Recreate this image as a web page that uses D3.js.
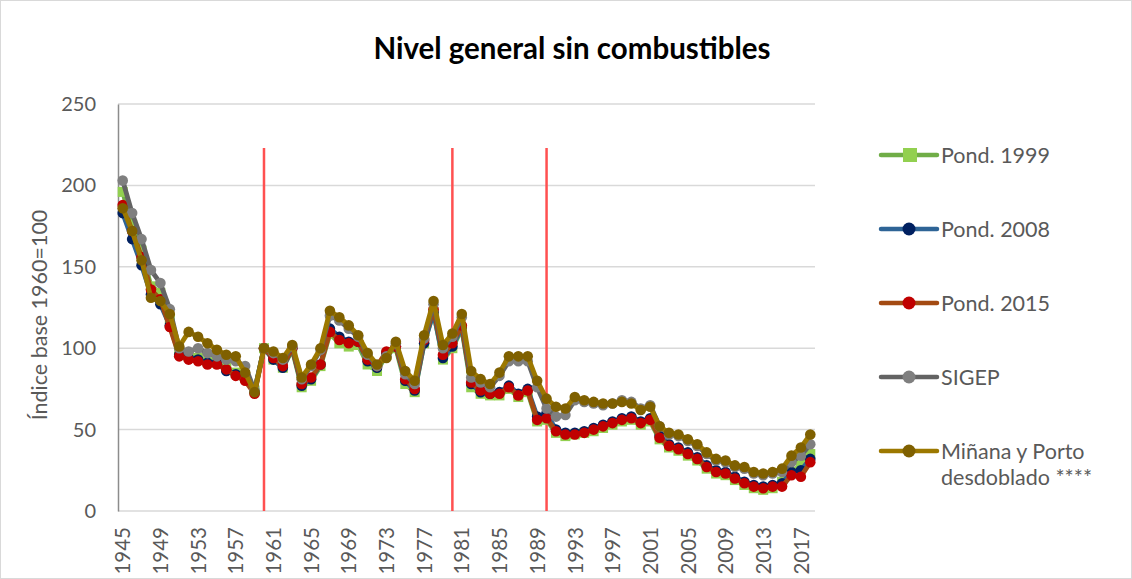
<!DOCTYPE html>
<html>
<head>
<meta charset="utf-8">
<script src="https://cdn.jsdelivr.net/npm/d3@7"></script>
<style>
  body { margin: 0; background: #fff; }
  svg { display: block; font-family: Lato, 'Open Sans', sans-serif; }
</style>
</head>
<body>
<div class="chart"></div>
<script>
const years = d3.range(1945, 2019);
const xTickYears = d3.range(1945, 2019, 4);
const yTicks = [0, 50, 100, 150, 200, 250];
const breakYears = [1960, 1980, 1990];

const pond1999 = [196, 176, 160, 138, 134, 118, 97, 95, 94, 92, 91, 88, 85, 82, 74,
  100, 93, 88, 99, 76, 80, 89, 109, 103, 101, 102, 90, 86, 96, 100, 78, 73, 103, 122, 93,
  100, 112, 76, 72, 71, 71, 75, 70, 73, 55,
  56, 48, 46, 47, 48, 49, 51, 53, 55, 56, 53, 55, 44, 39, 37, 34, 31, 26, 23, 22, 19, 16, 14, 13, 14, 18, 24, 28, 35];
const pond2008 = [183, 167, 151, 133, 127, 114, 96, 94, 93, 91, 91, 86, 84, 81, 73,
  100, 93, 88, 100, 77, 81, 90, 112, 107, 104, 104, 92, 88, 97, 101, 80, 74, 103, 122, 94,
  101, 113, 78, 73, 72, 73, 77, 72, 75, 58,
  60, 50, 48, 48, 49, 51, 53, 55, 57, 58, 55, 57, 46, 41, 39, 36, 33, 28, 25, 24, 21, 18, 16, 15, 16, 17, 24, 25, 32];
const pond2015 = [188, 172, 156, 136, 130, 113, 95, 93, 92, 90, 90, 87, 83, 80, 72,
  100, 94, 89, 100, 78, 82, 90, 110, 105, 103, 104, 93, 89, 98, 101, 81, 75, 105, 124, 96,
  103, 114, 79, 74, 72, 72, 76, 71, 74, 56,
  57, 49, 47, 47, 48, 50, 52, 54, 56, 57, 54, 56, 45, 40, 38, 35, 32, 27, 24, 23, 20, 17, 15, 14, 15, 15, 22, 21, 30];
const sigep = [203, 183, 167, 148, 140, 124, 100, 98, 100, 97, 95, 93, 92, 89, 74,
  100, 97, 93, 101, 81, 89, 99, 120, 117, 112, 107, 96, 89, 95, 103, 84, 78, 106, 127, 100,
  107, 119, 82, 79, 76, 83, 92, 92, 92, 76,
  63, 58, 59, 68, 67, 66, 65, 66, 68, 67, 63, 65, 52, 47, 46, 43, 40, 35, 31, 30, 27, 26, 23, 22, 23, 24, 30, 34, 41];
const minana = [186, 172, 154, 131, 129, 121, 101, 110, 107, 103, 99, 96, 95, 85, 73,
  100, 98, 94, 102, 82, 90, 100, 123, 119, 114, 108, 97, 90, 94, 104, 86, 80, 108, 129, 102,
  109, 121, 86, 81, 78, 85, 95, 95, 95, 80,
  69, 64, 63, 70, 68, 67, 66, 66, 67, 66, 62, 64, 52, 48, 47, 44, 41, 36, 32, 31, 28, 27, 24, 23, 24, 26, 34, 39, 47];

const seriesNames = ['Pond. 1999', 'Pond. 2008', 'Pond. 2015', 'SIGEP', 'Miñana y Porto desdoblado ****'];

const series = [
  { name: seriesNames[0], values: pond1999, line: '#70AD47', marker: '#92D050', shape: 'square' },
  { name: seriesNames[1], values: pond2008, line: '#2E6496', marker: '#002060', shape: 'circle' },
  { name: seriesNames[2], values: pond2015, line: '#A34A12', marker: '#C00000', shape: 'circle' },
  { name: seriesNames[3], values: sigep, line: '#636363', marker: '#7F7F7F', shape: 'circle' },
  { name: seriesNames[4], values: minana, line: '#9C7800', marker: '#7F6000', shape: 'circle' }
];

const width = 1132, height = 579;
const plot = { left: 118, right: 815, top: 104, bottom: 511 };

const svg = d3.select('.chart').append('svg')
  .attr('width', width)
  .attr('height', height);

svg.append('rect')
  .attr('x', 0.5).attr('y', 0.5)
  .attr('width', width - 1).attr('height', height - 1)
  .attr('fill', '#fff')
  .attr('stroke', '#d9d9d9');

const x = d3.scalePoint()
  .domain(years)
  .range([plot.left, plot.right])
  .padding(0.5);

const y = d3.scaleLinear()
  .domain([0, 250])
  .range([plot.bottom, plot.top]);

// gridlines
svg.append('g')
  .selectAll('line')
  .data(yTicks)
  .enter()
  .append('line')
  .attr('x1', plot.left)
  .attr('x2', plot.right)
  .attr('y1', d => y(d))
  .attr('y2', d => y(d))
  .attr('stroke', '#d9d9d9')
  .attr('stroke-width', 1.5);

// y axis
const yAxis = svg.append('g')
  .attr('transform', `translate(${plot.left},0)`)
  .call(d3.axisLeft(y).tickValues(yTicks).tickSize(0).tickPadding(22));
yAxis.select('.domain').attr('stroke', '#8c8c8c').attr('stroke-width', 1.5);
yAxis.selectAll('text')
  .attr('font-size', 20)
  .attr('fill', '#595959')
  .attr('font-family', 'Lato, sans-serif');

// x axis, labels turned upright
const xAxis = svg.append('g')
  .attr('transform', `translate(0,${plot.bottom})`)
  .call(d3.axisBottom(x).tickValues(xTickYears).tickSize(0));
xAxis.select('.domain').remove();
xAxis.selectAll('text')
  .attr('font-size', 20.5)
  .attr('fill', '#595959')
  .attr('font-family', 'Lato, sans-serif')
  .attr('text-anchor', 'end')
  .attr('x', 0)
  .attr('y', 0)
  .attr('dy', '0.35em')
  .attr('transform', 'translate(0,16) rotate(-90)');

// red break lines
svg.append('g')
  .selectAll('line')
  .data(breakYears)
  .enter()
  .append('line')
  .attr('x1', d => x(d))
  .attr('x2', d => x(d))
  .attr('y1', y(223))
  .attr('y2', y(0))
  .attr('stroke', '#FF5050')
  .attr('stroke-width', 2.5);

const line = d3.line()
  .x((d, i) => x(years[i]))
  .y(d => y(d));

series.forEach(s => {
  const g = svg.append('g');
  g.append('path')
    .datum(s.values)
    .attr('d', line)
    .attr('fill', 'none')
    .attr('stroke', s.line)
    .attr('stroke-width', 4.8)
    .attr('stroke-linejoin', 'round');

  if (s.shape === 'square') {
    g.selectAll('rect')
      .data(s.values)
      .enter()
      .append('rect')
      .attr('x', (d, i) => x(years[i]) - 5)
      .attr('y', d => y(d) - 5)
      .attr('width', 10)
      .attr('height', 10)
      .attr('fill', s.marker);
  } else {
    g.selectAll('circle')
      .data(s.values)
      .enter()
      .append('circle')
      .attr('cx', (d, i) => x(years[i]))
      .attr('cy', d => y(d))
      .attr('r', 5.3)
      .attr('fill', s.marker);
  }
});

// y axis title
svg.append('text')
  .attr('transform', `translate(47,315) rotate(-90)`)
  .attr('text-anchor', 'middle')
  .attr('font-size', 21.5)
  .attr('fill', '#595959')
  .text('Índice base 1960=100');

// title
svg.append('text')
  .attr('x', 572)
  .attr('y', 59)
  .attr('text-anchor', 'middle')
  .attr('font-size', 29.5)
  .attr('font-weight', 'bold')
  .attr('fill', '#000')
  .text('Nivel general sin combustibles');

// legend
const legendY = [155, 229, 303, 377, 451];
svg.append('g')
  .selectAll('g')
  .data(series)
  .enter()
  .append('g')
  .attr('transform', (d, i) => `translate(881,${legendY[i]})`)
  .each(function (d) {
    const $g = d3.select(this);
    $g.append('line')
      .attr('x1', 0).attr('x2', 56)
      .attr('stroke', d.line)
      .attr('stroke-width', 4.5)
      .attr('stroke-linecap', 'round');
    if (d.shape === 'square') {
      $g.append('rect')
        .attr('x', 22).attr('y', -7)
        .attr('width', 14).attr('height', 14)
        .attr('fill', d.marker);
    } else {
      $g.append('circle')
        .attr('cx', 28).attr('r', 6.5)
        .attr('fill', d.marker);
    }
    const words = d.name === seriesNames[4] ? ['Miñana y Porto', 'desdoblado ****'] : [d.name];
    words.forEach((w, k) => {
      $g.append('text')
        .attr('x', 60)
        .attr('y', k * 26)
        .attr('dy', '0.35em')
        .attr('font-size', 21.5)
        .attr('fill', '#595959')
        .text(w);
    });
  });
</script>
</body>
</html>
